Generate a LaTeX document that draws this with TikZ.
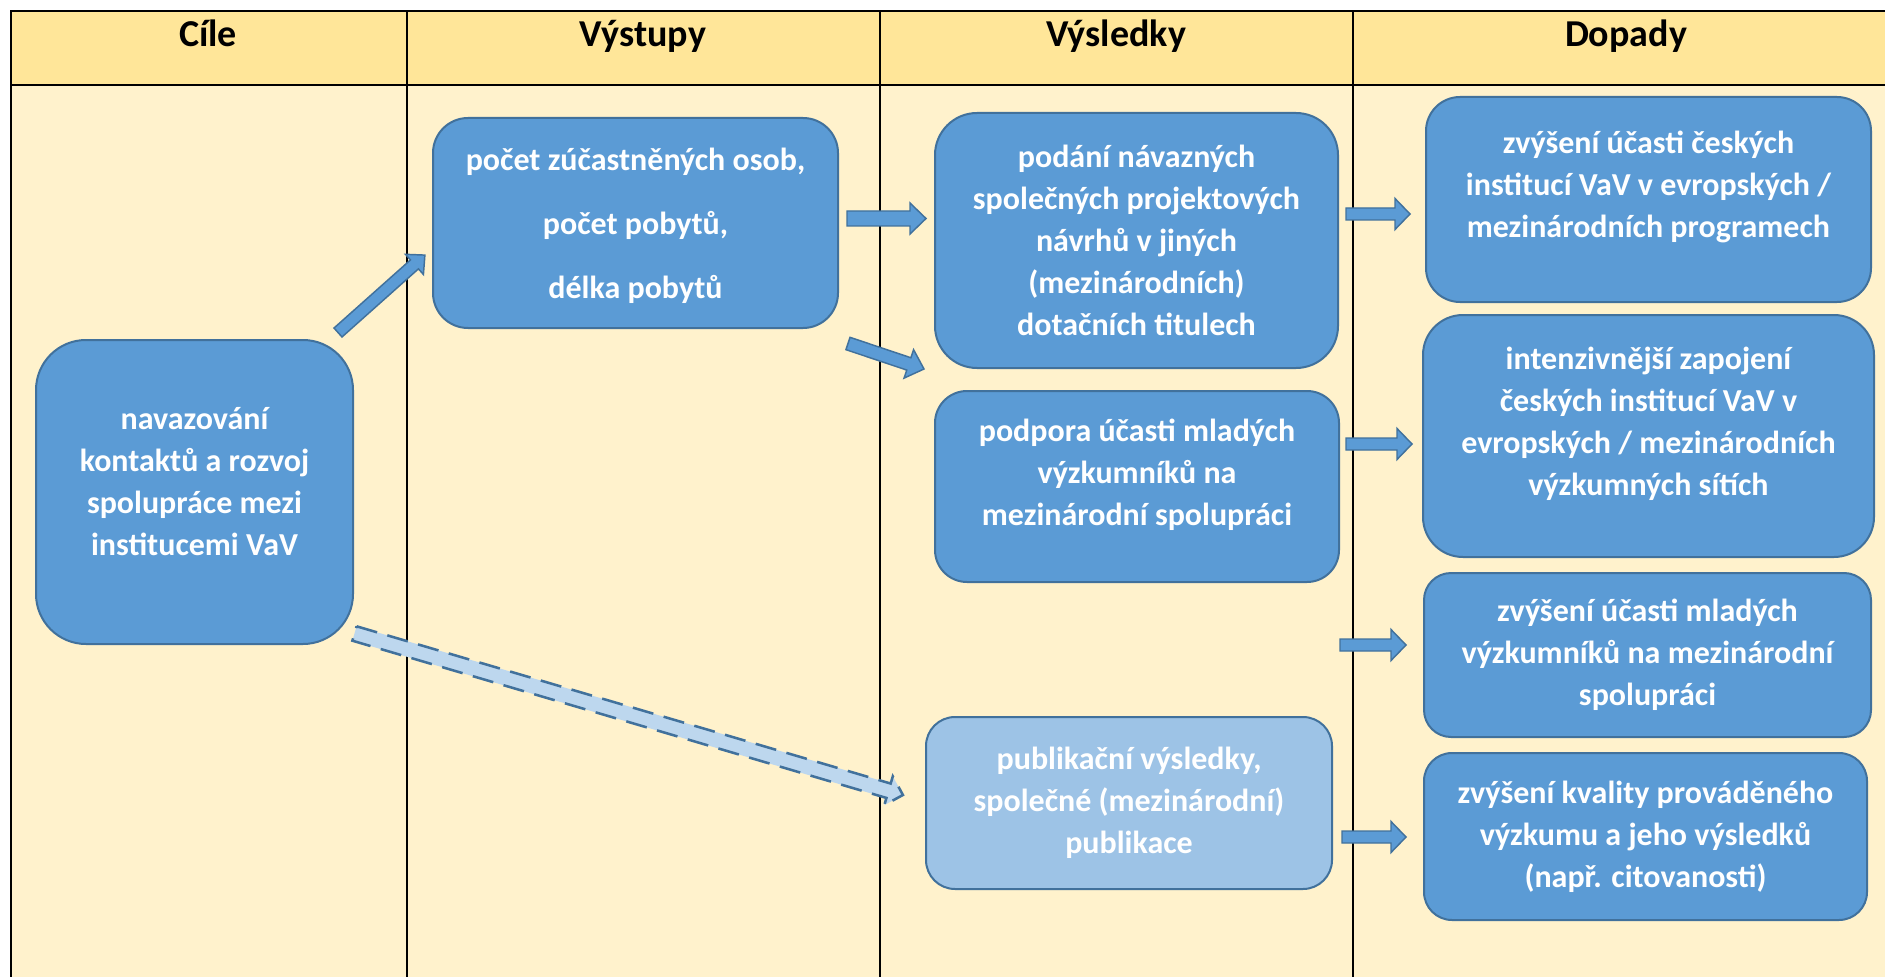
\documentclass[tikz,border=0pt]{standalone}
\usepackage{fontspec}
\setmainfont{Carlito}
\usetikzlibrary{calc}
\definecolor{hdr}{HTML}{FFE699}
\definecolor{bdy}{HTML}{FFF2CC}
\definecolor{boxfill}{HTML}{5B9BD5}
\definecolor{boxline}{HTML}{41719C}
\definecolor{lightfill}{HTML}{9DC3E6}
\definecolor{dashfill}{HTML}{BDD7EE}
% block arrow: style, tail, tip, half shaft, half head, head length (px)
\newcommand\blockarrow[6]{%
  \path[#1] let \p1=(#2), \p2=(#3), \n1={atan2(\y2-\y1,\x2-\x1)}, \n2={veclen(\x2-\x1,\y2-\y1)} in
  {[shift={(\p1)}, rotate=\n1]
   (0pt,{#4*0.75pt}) -- ({\n2*1pt-#6*0.75pt},{#4*0.75pt}) -- ({\n2*1pt-#6*0.75pt},{#5*0.75pt})
   -- ({\n2*1pt},0pt) -- ({\n2*1pt-#6*0.75pt},{-#5*0.75pt}) -- ({\n2*1pt-#6*0.75pt},{-#4*0.75pt})
   -- (0pt,{-#4*0.75pt}) -- cycle};}
\tikzset{
  hdrtxt/.style={anchor=base, font=\fontsize{28.5}{34}\selectfont\bfseries, text=black, inner sep=0pt},
  txt/.style={text=white, font=\fontsize{24}{31.5}\selectfont\bfseries, align=center},
  box/.style n args={3}{draw=boxline, line width=1.5pt, fill=boxfill, txt, inner sep=0pt,
     minimum width=#1*0.75pt, minimum height=#2*0.75pt, rounded corners=#3*0.75pt},
  barrow/.style={fill=boxfill, draw=boxline, line width=1.1pt, line join=miter},
  darrow/.style={fill=dashfill, draw=boxline, line width=1.9pt, dash pattern=on 16pt off 8pt},
  frame/.style={line width=1.5pt, draw=black},
  divider/.style={line width=1.1pt, draw=black}
}
\begin{document}
\begin{tikzpicture}[x=0.75pt, y=-0.75pt]
\useasboundingbox (0,0) rectangle (1885,977);
\fill[white] (0,0) rectangle (1885,977);
\fill[hdr] (11,11) rectangle (1885,85);
\fill[bdy] (11,85) rectangle (1885,977);
\draw[frame] (11,977) -- (11,11) -- (1885,11);
\draw[frame] (11,85) -- (1885,85);
\foreach \x in {407,880,1353} \draw[divider] (\x,11) -- (\x,977);

% headers
\node[hdrtxt] (h1) at (208,47) {Cíle};
\node[hdrtxt] (h2) at (643,47) {Výstupy};
\node[hdrtxt] (h3) at (1116,47) {Výsledky};
\node[hdrtxt] (h4) at (1626,47) {Dopady};

% arrow coordinates
\coordinate (a1s) at (338,332.5);  \coordinate (a1e) at (425,255);
\coordinate (a2s) at (847,218.5);  \coordinate (a2e) at (926,218.5);
\coordinate (a3s) at (848,343.5);  \coordinate (a3e) at (924,369);
\coordinate (a4s) at (1346,214);   \coordinate (a4e) at (1410,214);
\coordinate (a5s) at (1346,444);   \coordinate (a5e) at (1412,444);
\coordinate (a6s) at (1340,645);   \coordinate (a6e) at (1406,645);
\coordinate (a7s) at (1342,837);   \coordinate (a7e) at (1406,837);
\coordinate (a8s) at (354.5,633.5); \coordinate (a8e) at (903,795);

\blockarrow{barrow}{a1s}{a1e}{6}{13.5}{14}
\blockarrow{barrow}{a2s}{a2e}{7.5}{15.5}{16}
\blockarrow{barrow}{a3s}{a3e}{6.5}{15}{16}
\blockarrow{barrow}{a4s}{a4e}{6}{15.5}{15}
\blockarrow{barrow}{a5s}{a5e}{6}{15.5}{15}
\blockarrow{barrow}{a6s}{a6e}{6}{15.5}{15}
\blockarrow{barrow}{a7s}{a7e}{6}{15.5}{15}
\blockarrow{darrow}{a8s}{a8e}{7.5}{15}{15}

% boxes
\node[box={317}{304}{50}] (cile) at (194.5,492)
  {navazování\\kontaktů a rozvoj\\spolupráce mezi\\institucemi VaV\\[-15pt]~};
\node[box={405}{210}{35}] (pocet) at (635.5,223)
  {\rule{0pt}{0pt}\\[-10pt]počet zúčastněných osob,\\[16.5pt]počet pobytů,\\[16.5pt]délka pobytů};
\node[box={403}{255}{42}] (podani) at (1136.5,240.5)
  {podání návazných\\společných projektových\\návrhů v jiných\\(mezinárodních)\\dotačních titulech};
\node[box={404}{191}{32}] (podpora) at (1137,486.5)
  {podpora účasti mladých\\výzkumníků na\\mezinárodní spolupráci\\[-10pt]~};
\node[box={406}{172}{29}, fill=lightfill] (publ) at (1129,803)
  {publikační výsledky,\\společné (mezinárodní)\\publikace};
\node[box={445}{205}{34}] (zvys) at (1648.5,199.5)
  {zvýšení účasti českých\\institucí VaV v evropských /\\mezinárodních programech\\[-9pt]~};
\node[box={451}{242}{40}] (intenz) at (1648.5,436)
  {intenzivnější zapojení\\českých institucí VaV v\\evropských / mezinárodních\\výzkumných sítích\\[-9pt]~};
\node[box={447}{164}{27}] (mlad) at (1647.5,655)
  {zvýšení účasti mladých\\výzkumníků na mezinárodní\\spolupráci};
\node[box={443}{167}{28}] (kval) at (1645.5,836.5)
  {zvýšení kvality prováděného\\výzkumu a jeho výsledků\\(např. citovanosti)};
\end{tikzpicture}
\end{document}
